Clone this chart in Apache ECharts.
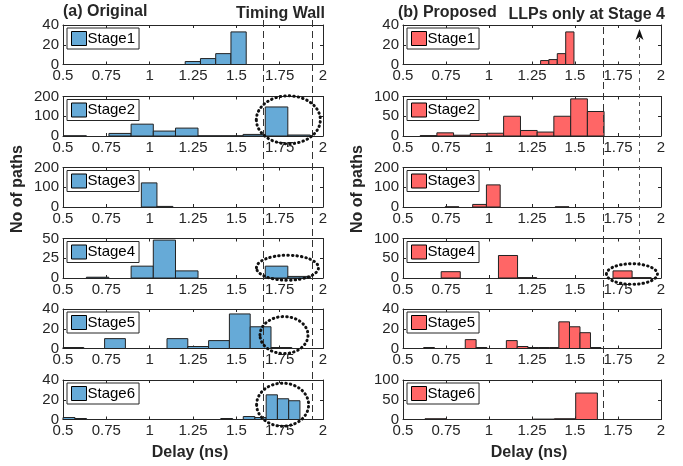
<!DOCTYPE html>
<html>
<head>
<meta charset="utf-8">
<script src="https://cdn.jsdelivr.net/npm/echarts@6/dist/echarts.min.js"></script>
<style>
  html, body { margin: 0; padding: 0; background: #fff; }
  #chart { width: 683px; height: 466px; }
</style>
</head>
<body>
<div id="chart"></div>
<script>
// histogram bins: [binStart, binEnd, count]
const origStage1 = [[1.205, 1.293, 3], [1.293, 1.381, 6], [1.381, 1.469, 11], [1.469, 1.557, 33]];
const origStage2 = [[0.505, 0.635, 1], [0.765, 0.893, 13], [0.893, 1.021, 60], [1.021, 1.149, 25], [1.149, 1.279, 40],
  [1.279, 1.409, 1], [1.409, 1.539, 1], [1.539, 1.667, 8], [1.667, 1.797, 147], [1.797, 1.927, 5]];
const origStage3 = [[0.952, 1.042, 122], [1.042, 1.134, 3]];
const origStage4 = [[0.635, 0.764, 1], [0.893, 1.021, 15], [1.021, 1.149, 48], [1.149, 1.279, 9], [1.667, 1.797, 15], [1.797, 1.927, 2]];
const origStage5 = [[0.50, 0.62, 1], [0.74, 0.86, 10], [1.10, 1.22, 10], [1.22, 1.34, 2], [1.34, 1.46, 8], [1.46, 1.58, 35],
  [1.58, 1.70, 22], [1.70, 1.82, 1]];
const origStage6 = [[0.50, 0.569, 2], [0.569, 0.636, 1], [1.41, 1.479, 1], [1.54, 1.607, 3], [1.607, 1.672, 2], [1.672, 1.737, 25],
  [1.737, 1.802, 21], [1.802, 1.867, 19]];

const propStage1 = [[1.300, 1.348, 4], [1.348, 1.397, 5], [1.397, 1.446, 11], [1.446, 1.494, 33]];
const propStage2 = [[0.600, 0.697, 1], [0.697, 0.794, 8], [0.794, 0.891, 2], [0.891, 0.989, 6], [0.989, 1.085, 7], [1.085, 1.183, 50],
  [1.183, 1.280, 14], [1.280, 1.377, 10], [1.377, 1.475, 50], [1.475, 1.572, 94], [1.572, 1.669, 62]];
const propStage3 = [[0.745, 0.825, 1], [0.905, 0.985, 13], [0.985, 1.065, 112], [1.385, 1.465, 1]];
const propStage4 = [[0.722, 0.833, 16], [1.055, 1.166, 57], [1.166, 1.277, 1], [1.721, 1.832, 18], [1.832, 1.943, 1]];
const propStage5 = [[0.620, 0.683, 1], [0.862, 0.925, 9], [0.925, 0.988, 1], [1.101, 1.164, 8], [1.164, 1.227, 2], [1.227, 1.290, 1],
  [1.290, 1.353, 1], [1.353, 1.406, 1], [1.406, 1.468, 27], [1.468, 1.529, 22], [1.529, 1.590, 16], [1.590, 1.651, 1]];
const propStage6 = [[0.628, 0.751, 2], [1.257, 1.380, 1], [1.380, 1.504, 2], [1.504, 1.630, 67]];

const stageNames = ['Stage1', 'Stage2', 'Stage3', 'Stage4', 'Stage5', 'Stage6'];
const delayTicks = [0.5, 0.75, 1, 1.25, 1.5, 1.75, 2];
const origYMax = [40, 200, 200, 50, 40, 40];
const propYMax = [40, 100, 200, 100, 40, 100];
const origWalls = [1.656, 1.935];
const propWall = 1.665;
const llpArrowX = 1.87;

const origData = [origStage1, origStage2, origStage3, origStage4, origStage5, origStage6];
const propData = [propStage1, propStage2, propStage3, propStage4, propStage5, propStage6];

const FONT = '"Liberation Sans", Arial, Helvetica, sans-serif';
const AX = '#262626';
const rowTops = [25, 96.5, 167.5, 238.5, 309, 380];
const rowH = 39.5;
const panels = [
  { left: 63, width: 260, data: origData, yMax: origYMax, color: '#66AAD7', key: 'o' },
  { left: 403, width: 258, data: propData, yMax: propYMax, color: '#FF6666', key: 'p' }
];

const chart = echarts.init(document.getElementById('chart'));

const grid = [], xAxis = [], yAxis = [], series = [], legend = [];

function renderHist(params, api) {
  const a = api.coord([api.value(0), api.value(2)]);
  const b = api.coord([api.value(1), 0]);
  return {
    type: 'rect',
    shape: { x: a[0], y: a[1], width: b[0] - a[0], height: b[1] - a[1] },
    style: { fill: api.visual('color'), stroke: '#222', lineWidth: 1 }
  };
}

panels.forEach(function (p) {
  p.data.forEach(function (bins, r) {
    const g = grid.length;
    const ymax = p.yMax[r];
    grid.push({ left: p.left, top: rowTops[r], width: p.width, height: rowH });
    const xBase = {
      gridIndex: g, type: 'value', min: delayTicks[0], max: delayTicks[delayTicks.length - 1],
      interval: delayTicks[1] - delayTicks[0], splitLine: { show: false },
      axisLine: { onZero: false, lineStyle: { color: AX, width: 1 } },
      axisTick: { inside: true, length: 3, lineStyle: { color: AX } }
    };
    xAxis.push(Object.assign({}, xBase, {
      position: 'bottom',
      axisLabel: { fontFamily: FONT, fontSize: 15, color: AX, margin: 4 }
    }));
    xAxis.push(Object.assign({}, xBase, { position: 'top', axisLabel: { show: false } }));
    const yBase = {
      gridIndex: g, type: 'value', min: 0, max: ymax, interval: ymax / 2, splitLine: { show: false },
      axisLine: { onZero: false, lineStyle: { color: AX, width: 1 } },
      axisTick: { inside: true, length: 3, lineStyle: { color: AX } }
    };
    yAxis.push(Object.assign({}, yBase, {
      position: 'left',
      axisLabel: { fontFamily: FONT, fontSize: 15, color: AX, margin: 4 }
    }));
    yAxis.push(Object.assign({}, yBase, { position: 'right', axisLabel: { show: false } }));
    const name = p.key + stageNames[r];
    series.push({
      type: 'custom', name: name, xAxisIndex: 2 * g, yAxisIndex: 2 * g,
      renderItem: renderHist, encode: { x: [0, 1], y: 2 },
      itemStyle: { color: p.color }, data: bins, silent: true
    });
    legend.push({
      data: [name], left: p.left + 4, top: rowTops[r] + 3, orient: 'vertical',
      formatter: function (n) { return n.slice(1); },
      icon: 'rect', itemWidth: 15, itemHeight: 14, padding: [3, 4, 3, 4],
      borderColor: AX, borderWidth: 1, backgroundColor: '#fff', borderRadius: 0,
      selectedMode: false,
      itemStyle: { borderColor: '#000', borderWidth: 1 },
      textStyle: { fontFamily: FONT, fontSize: 15, color: '#000', padding: [0, 0, 0, -4] }
    });
  });
});

chart.setOption({
  animation: false,
  backgroundColor: '#fff',
  grid: grid, xAxis: xAxis, yAxis: yAxis, series: series, legend: legend
});

// annotations (placed through the grids' own scales)
function px(g, x, y) { return chart.convertToPixel({ gridIndex: g }, [x, y]); }
const loops = [
  { g: 1, x: 1.80, y: 82, rx: 32, ry: 24 },
  { g: 3, x: 1.795, y: 13, rx: 31, ry: 12.5 },
  { g: 4, x: 1.775, y: 13.6, rx: 24, ry: 18.5 },
  { g: 5, x: 1.767, y: 15, rx: 26, ry: 21.5 },
  { g: 9, x: 1.831, y: 10, rx: 25.5, ry: 10.3 }
];
const elements = [];
const bottomY = px(5, 0.5, 0)[1];
origWalls.forEach(function (w) {
  const x = Math.round(px(0, w, 0)[0]) + 0.5;
  elements.push({ type: 'line', z: 100, shape: { x1: x, y1: 20, x2: x, y2: bottomY },
    style: { stroke: '#333', lineWidth: 1, lineDash: [7, 4] } });
});
const wx = Math.round(px(6, propWall, 0)[0]) + 0.5;
elements.push({ type: 'line', z: 100, shape: { x1: wx, y1: 27, x2: wx, y2: px(11, 0.5, 0)[1] },
  style: { stroke: '#333', lineWidth: 1, lineDash: [7, 4] } });
const loopTops = {};
loops.forEach(function (l) {
  const c = px(l.g, l.x, l.y);
  loopTops[l.g] = c[1] - l.ry;
  elements.push({ type: 'ellipse', z: 101, shape: { cx: c[0], cy: c[1], rx: l.rx, ry: l.ry },
    style: { fill: 'none', stroke: '#111', lineWidth: 3, lineDash: [0.5, 4], lineCap: 'round' } });
});
const ax = Math.round(px(9, llpArrowX, 0)[0]) + 0.5;
elements.push({ type: 'line', z: 100, shape: { x1: ax, y1: 38, x2: ax, y2: loopTops[9] },
  style: { stroke: '#555', lineWidth: 1, lineDash: [4, 4] } });
elements.push({ type: 'polygon', z: 102, shape: { points: [[ax, 29], [ax - 4, 40], [ax, 37], [ax + 4, 40]] },
  style: { fill: '#111' } });

function label(text, x, y, align, rot) {
  return { type: 'text', z: 110, x: x, y: y, rotation: rot || 0,
    style: { text: text, font: 'bold 16px ' + FONT, fill: AX, align: align, verticalAlign: 'middle' } };
}
elements.push(label('(a) Original', 63, 12, 'left'));
elements.push(label('Timing Wall', 325, 14, 'right'));
elements.push(label('(b) Proposed', 398, 13, 'left'));
elements.push(label('LLPs only at Stage 4', 665, 15, 'right'));
elements.push(label('No of paths', 18, 189, 'center', Math.PI / 2));
elements.push(label('No of paths', 358, 189, 'center', Math.PI / 2));
elements.push(label('Delay (ns)', 190, 453, 'center'));
elements.push(label('Delay (ns)', 529, 453, 'center'));

chart.setOption({ graphic: { elements: elements } });
</script>
</body>
</html>
